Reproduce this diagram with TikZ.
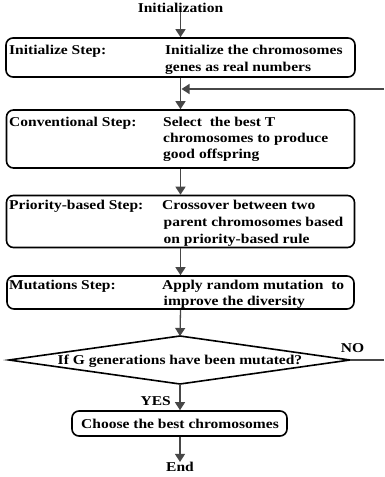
\documentclass[tikz,border=0pt]{standalone}
\usepackage{fontspec}
\setmainfont{Liberation Serif}[FakeStretch=1.15]
\usetikzlibrary{arrows.meta}
\definecolor{arrgray}{HTML}{474747}
\tikzset{
  box/.style={draw=black, line width=1.6pt, rounded corners=7pt, fill=white, inner sep=0pt},
  txt/.style={inner sep=0pt, font=\bfseries\fontsize{13.5}{16}\selectfont, text=black},
  arr/.style={draw=arrgray, line width=1.3pt, -{Triangle[length=8pt,width=10pt]}},
  plain/.style={draw=arrgray, line width=1.1pt},
  dia/.style={draw=black, line width=1.6pt, line join=miter}
}
\begin{document}
\begin{tikzpicture}[x=1pt,y=-1pt]
\useasboundingbox (0,0) rectangle (384,477);
% start
\node[txt, anchor=base] (init) at (180.5,12) {Initialization};
% boxes
\node[box, minimum width=349pt, minimum height=39pt] (b1) at (180.5,57.5) {};
\node[box, minimum width=348pt, minimum height=58pt] (b2) at (180.5,139) {};
\node[box, minimum width=348pt, minimum height=52pt] (b3) at (180.5,221.5) {};
\node[box, minimum width=347pt, minimum height=33pt] (b4) at (180.5,292.5) {};
\node[box, minimum width=215pt, minimum height=25pt] (ch) at (179.5,423.5) {};
% box texts
\node[txt, anchor=base west] (l1) at (9,54) {Initialize Step:};
\node[txt, anchor=base west] (r1a) at (165,54) {Initialize the chromosomes};
\node[txt, anchor=base west] (r1b) at (165,71) {genes as real numbers};
\node[txt, anchor=base west] (l2) at (9,126) {Conventional Step:};
\node[txt, anchor=base west] (r2a) at (163,126) {Select~ the best T};
\node[txt, anchor=base west] (r2b) at (163,142) {chromosomes to produce};
\node[txt, anchor=base west] (r2c) at (163,158) {good offspring};
\node[txt, anchor=base west] (l3) at (9,209.5) {Priority-based Step:};
\node[txt, anchor=base west] (r3a) at (162,209.5) {Crossover between two};
\node[txt, anchor=base west] (r3b) at (163.5,226.5) {parent chromosomes based};
\node[txt, anchor=base west] (r3c) at (163.5,243) {on priority-based rule};
\node[txt, anchor=base west] (l4) at (9,289.5) {Mutations Step:};
\node[txt, anchor=base west] (r4a) at (162,289.5) {Apply random mutation~ to};
\node[txt, anchor=base west] (r4b) at (163.5,305.5) {improve the diversity};
\node[txt, anchor=base] (cht) at (180,428) {Choose the best chromosomes};
% decision
\coordinate (dT) at (180,336);
\coordinate (dR) at (350,360);
\coordinate (dB) at (180,384);
\coordinate (dL) at (9,360);
\draw[dia] (dT) -- (dR) -- (dB) -- (dL) -- cycle;
\node[txt, anchor=base] (q) at (180,364) {If G generations have been mutated?};
\node[txt, anchor=base] (no) at (352.5,352.5) {NO};
\node[txt, anchor=base east] (yes) at (171,405) {YES};
\node[txt, anchor=base] (end) at (180,471.5) {End};
% connectors
\coordinate (fbR) at (384,89);
\coordinate (noR) at (384,360);
\draw[arr] (init.south -| b1.north) -- (b1.north);
\draw[arr] (b1.south) -- (b2.north);
\draw[arr, shorten >=1pt] (fbR) -- (b1.south |- fbR);
\draw[arr] (b2.south) -- (b3.north);
\draw[arr] (b3.south) -- (b4.north);
\draw[arr] (b4.south) -- (dT);
\draw[arr] (dB) -- (dB |- ch.north);
\draw[arr] (ch.south -| end.north) -- (end.north);
\draw[plain] (dR) -- (noR);
\end{tikzpicture}
\end{document}
